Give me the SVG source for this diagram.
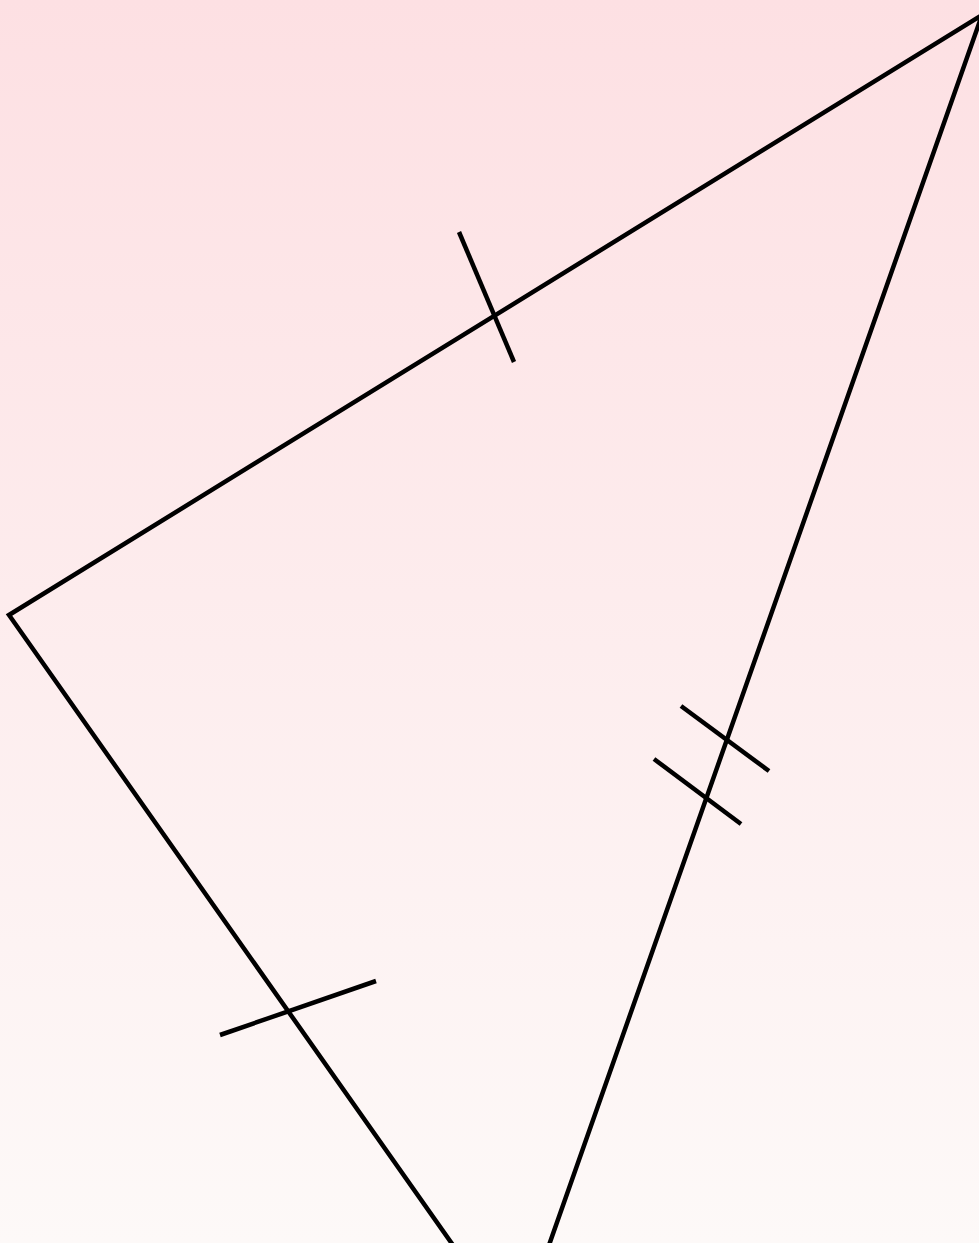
<svg xmlns="http://www.w3.org/2000/svg" width="979" height="1243" viewBox="0 0 979 1243">
<defs>
<linearGradient id="bg" x1="0" y1="0" x2="0" y2="1">
<stop offset="0" stop-color="#fde0e3"/>
<stop offset="1" stop-color="#fdf9f8"/>
</linearGradient>
<style>
.s{fill:none;stroke:#000;stroke-width:4.5;stroke-linejoin:miter}
</style>
</defs>
<rect width="979" height="1243" fill="url(#bg)"/>
<g id="shape">
<polygon class="s" points="982,15 9,615 517,1336"/>
</g>
<g id="ticks">
<line class="s" x1="459" y1="232" x2="514" y2="362"/>
<line class="s" x1="220" y1="1035" x2="376" y2="981"/>
<line class="s" x1="681" y1="706" x2="769" y2="771"/>
<line class="s" x1="654" y1="759" x2="741" y2="824"/>
</g>
</svg>
